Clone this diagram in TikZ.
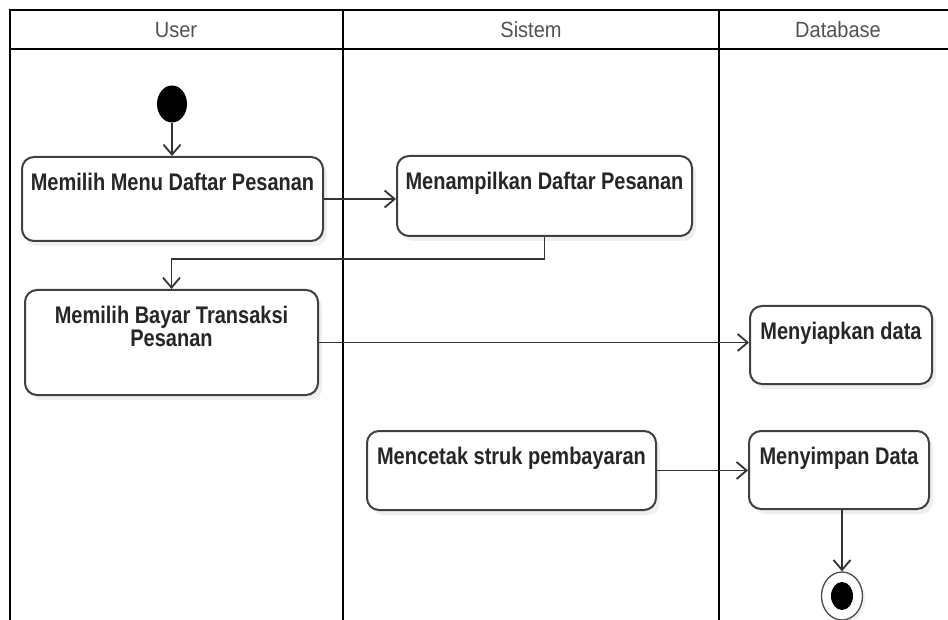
\documentclass[tikz,border=0pt]{standalone}
\usepackage{fontspec}
\setmainfont{Liberation Sans}
\usetikzlibrary{arrows.meta,shapes.geometric,shadows}
\newcommand\stretchtxt[1]{\scalebox{1}[1.2]{#1}}
\newcommand\hdrtxt[1]{\scalebox{1}[1.1]{#1}}
\begin{document}
\begin{tikzpicture}[x=1pt,y=-1pt,
  lane/.style={line width=2.8pt, draw=black},
  hdr/.style={font=\fontsize{20}{24}\selectfont, text=black!68, inner sep=0pt},
  act/.style={draw=black!75, line width=2pt, rounded corners=12pt, fill=white,
    drop shadow={shadow xshift=4pt, shadow yshift=-5pt, opacity=0.12}},
  lbl/.style={anchor=north, yshift=-16.5pt, inner sep=0pt, align=center,
    font=\bfseries\fontsize{20}{23}\selectfont, text=black!85},
  flow/.style={draw=black!80, line width=1.8pt,
    -{Straight Barb[length=10pt,width=17pt,line width=1.8pt]}},
]
\useasboundingbox[fill=white] (0,0) rectangle (948,620);

% swimlanes
\draw[lane] (948,10) -- (10,10) -- (10,620);
\draw[lane] (10,49) -- (948,49);
\draw[lane] (343,10) -- (343,620);
\draw[lane] (719,10) -- (719,620);

\node[hdr] (hUser) at (176,30) {\hdrtxt{User}};
\node[hdr] (hSistem) at (531,30) {\hdrtxt{Sistem}};
\node[hdr] (hDb) at (838,30) {\hdrtxt{Database}};

% start / end
\node[ellipse, fill=black, minimum width=30pt, minimum height=37pt, inner sep=0pt] (start) at (172,104) {};
\node[ellipse, draw=black!70, fill=white, line width=1.3pt, minimum width=41pt, minimum height=48pt, inner sep=0pt,
  drop shadow={shadow xshift=3pt, shadow yshift=-3pt, opacity=0.10}] (fin) at (842,596) {};
\node[ellipse, fill=black, minimum width=22pt, minimum height=28pt, inner sep=0pt] (finin) at (fin) {};

% activities
\node[act, minimum width=301pt, minimum height=84pt,
  label={[lbl]north:{\stretchtxt{Memilih Menu Daftar Pesanan}}}] (box1) at (172.5,199) {};
\node[act, minimum width=295pt, minimum height=80pt,
  label={[lbl]north:{\stretchtxt{Menampilkan Daftar Pesanan}}}] (box2) at (544.5,196) {};
\node[act, minimum width=293pt, minimum height=105pt,
  label={[lbl]north:{\stretchtxt{Memilih Bayar Transaksi}\\\stretchtxt{Pesanan}}}] (box3) at (171.5,342.5) {};
\node[act, minimum width=182pt, minimum height=78pt,
  label={[lbl]north:{\stretchtxt{Menyiapkan data}}}] (box4) at (841,345) {};
\node[act, minimum width=289pt, minimum height=79pt,
  label={[lbl]north:{\stretchtxt{Mencetak struk pembayaran}}}] (box5) at (511.5,470.5) {};
\node[act, minimum width=180pt, minimum height=78pt,
  label={[lbl]north:{\stretchtxt{Menyimpan Data}}}] (box6) at (839,470) {};

% flows
\draw[flow] (start) -- (start |- box1.north);
\draw[flow] (box1.east) -- (box2.west |- box1.east);
\draw[flow] (box2.south) -- ++(0,22) -| (box3.north);
\draw[flow] (box3.east) -- (box4.west |- box3.east);
\draw[flow] (box5.east) -- (box6.west |- box5.east);
\draw[flow] (box6.south -| fin.north) -- (fin.north);
\end{tikzpicture}
\end{document}
